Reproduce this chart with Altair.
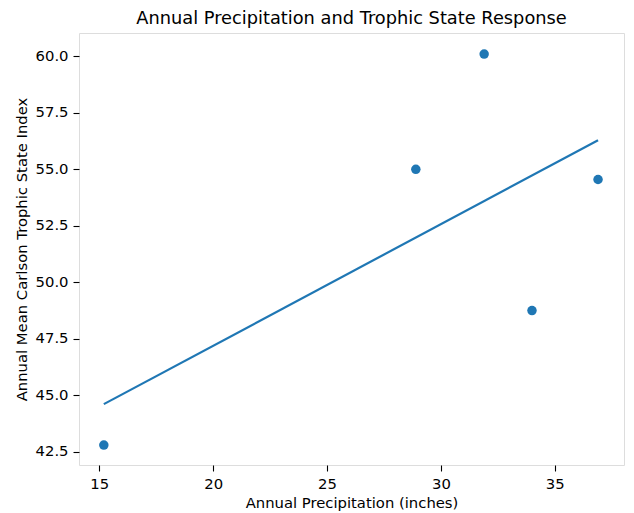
import altair as alt
import pandas as pd

precip = [15.2, 28.9, 31.9, 34.0, 36.9]
tsi = [42.8, 55.0, 60.1, 48.75, 54.55]

x_ticks = [15, 20, 25, 30, 35]
y_ticks = [42.5, 45.0, 47.5, 50.0, 52.5, 55.0, 57.5, 60.0]

df = pd.DataFrame({"precip": precip, "tsi": tsi})

FONT = "DejaVu Sans"
BLUE = "#1f77b4"
LBL = 14.8

common_axis = dict(
    grid=False,
    domain=False,
    tickColor="black",
    tickSize=6,
    tickWidth=1.1,
    labelPadding=5,
    labelFontSize=LBL,
    labelFont=FONT,
    labelColor="black",
    titleFont=FONT,
    titleFontSize=LBL,
    titleFontWeight="normal",
    titleColor="black",
    labelFlush=False,
)

x_enc = alt.X(
    "precip:Q",
    scale=alt.Scale(domain=[14.11, 38.04], nice=False, zero=False),
    axis=alt.Axis(
        title="Annual Precipitation (inches)",
        values=x_ticks,
        format="d",
        titlePadding=5,
        **common_axis,
    ),
)
y_enc = alt.Y(
    "tsi:Q",
    scale=alt.Scale(domain=[41.92, 61.03], nice=False, zero=False),
    axis=alt.Axis(
        title="Annual Mean Carlson Trophic State Index",
        values=y_ticks,
        format=".1f",
        titlePadding=6,
        **common_axis,
    ),
)

points = alt.Chart(df).mark_circle(size=90, color=BLUE, opacity=1).encode(x=x_enc, y=y_enc)

line = (
    alt.Chart(df)
    .transform_regression("precip", "tsi")
    .mark_line(color=BLUE, strokeWidth=2.2)
    .encode(x=x_enc, y=y_enc)
)

chart = (
    alt.layer(line, points)
    .properties(
        width=545,
        height=432,
        title=alt.TitleParams(
            "Annual Precipitation and Trophic State Response",
            font=FONT,
            fontSize=17.8,
            fontWeight="normal",
            color="black",
            anchor="middle",
            offset=5,
        ),
        autosize=alt.AutoSizeParams(type="none"),
        padding={"left": 71, "top": 25, "right": 2, "bottom": 48},
    )
    .configure_view(stroke="black", strokeWidth=1.1)
    .configure(background="white")
)

chart.save("out.html", embed_options={"renderer": "svg", "actions": False})
